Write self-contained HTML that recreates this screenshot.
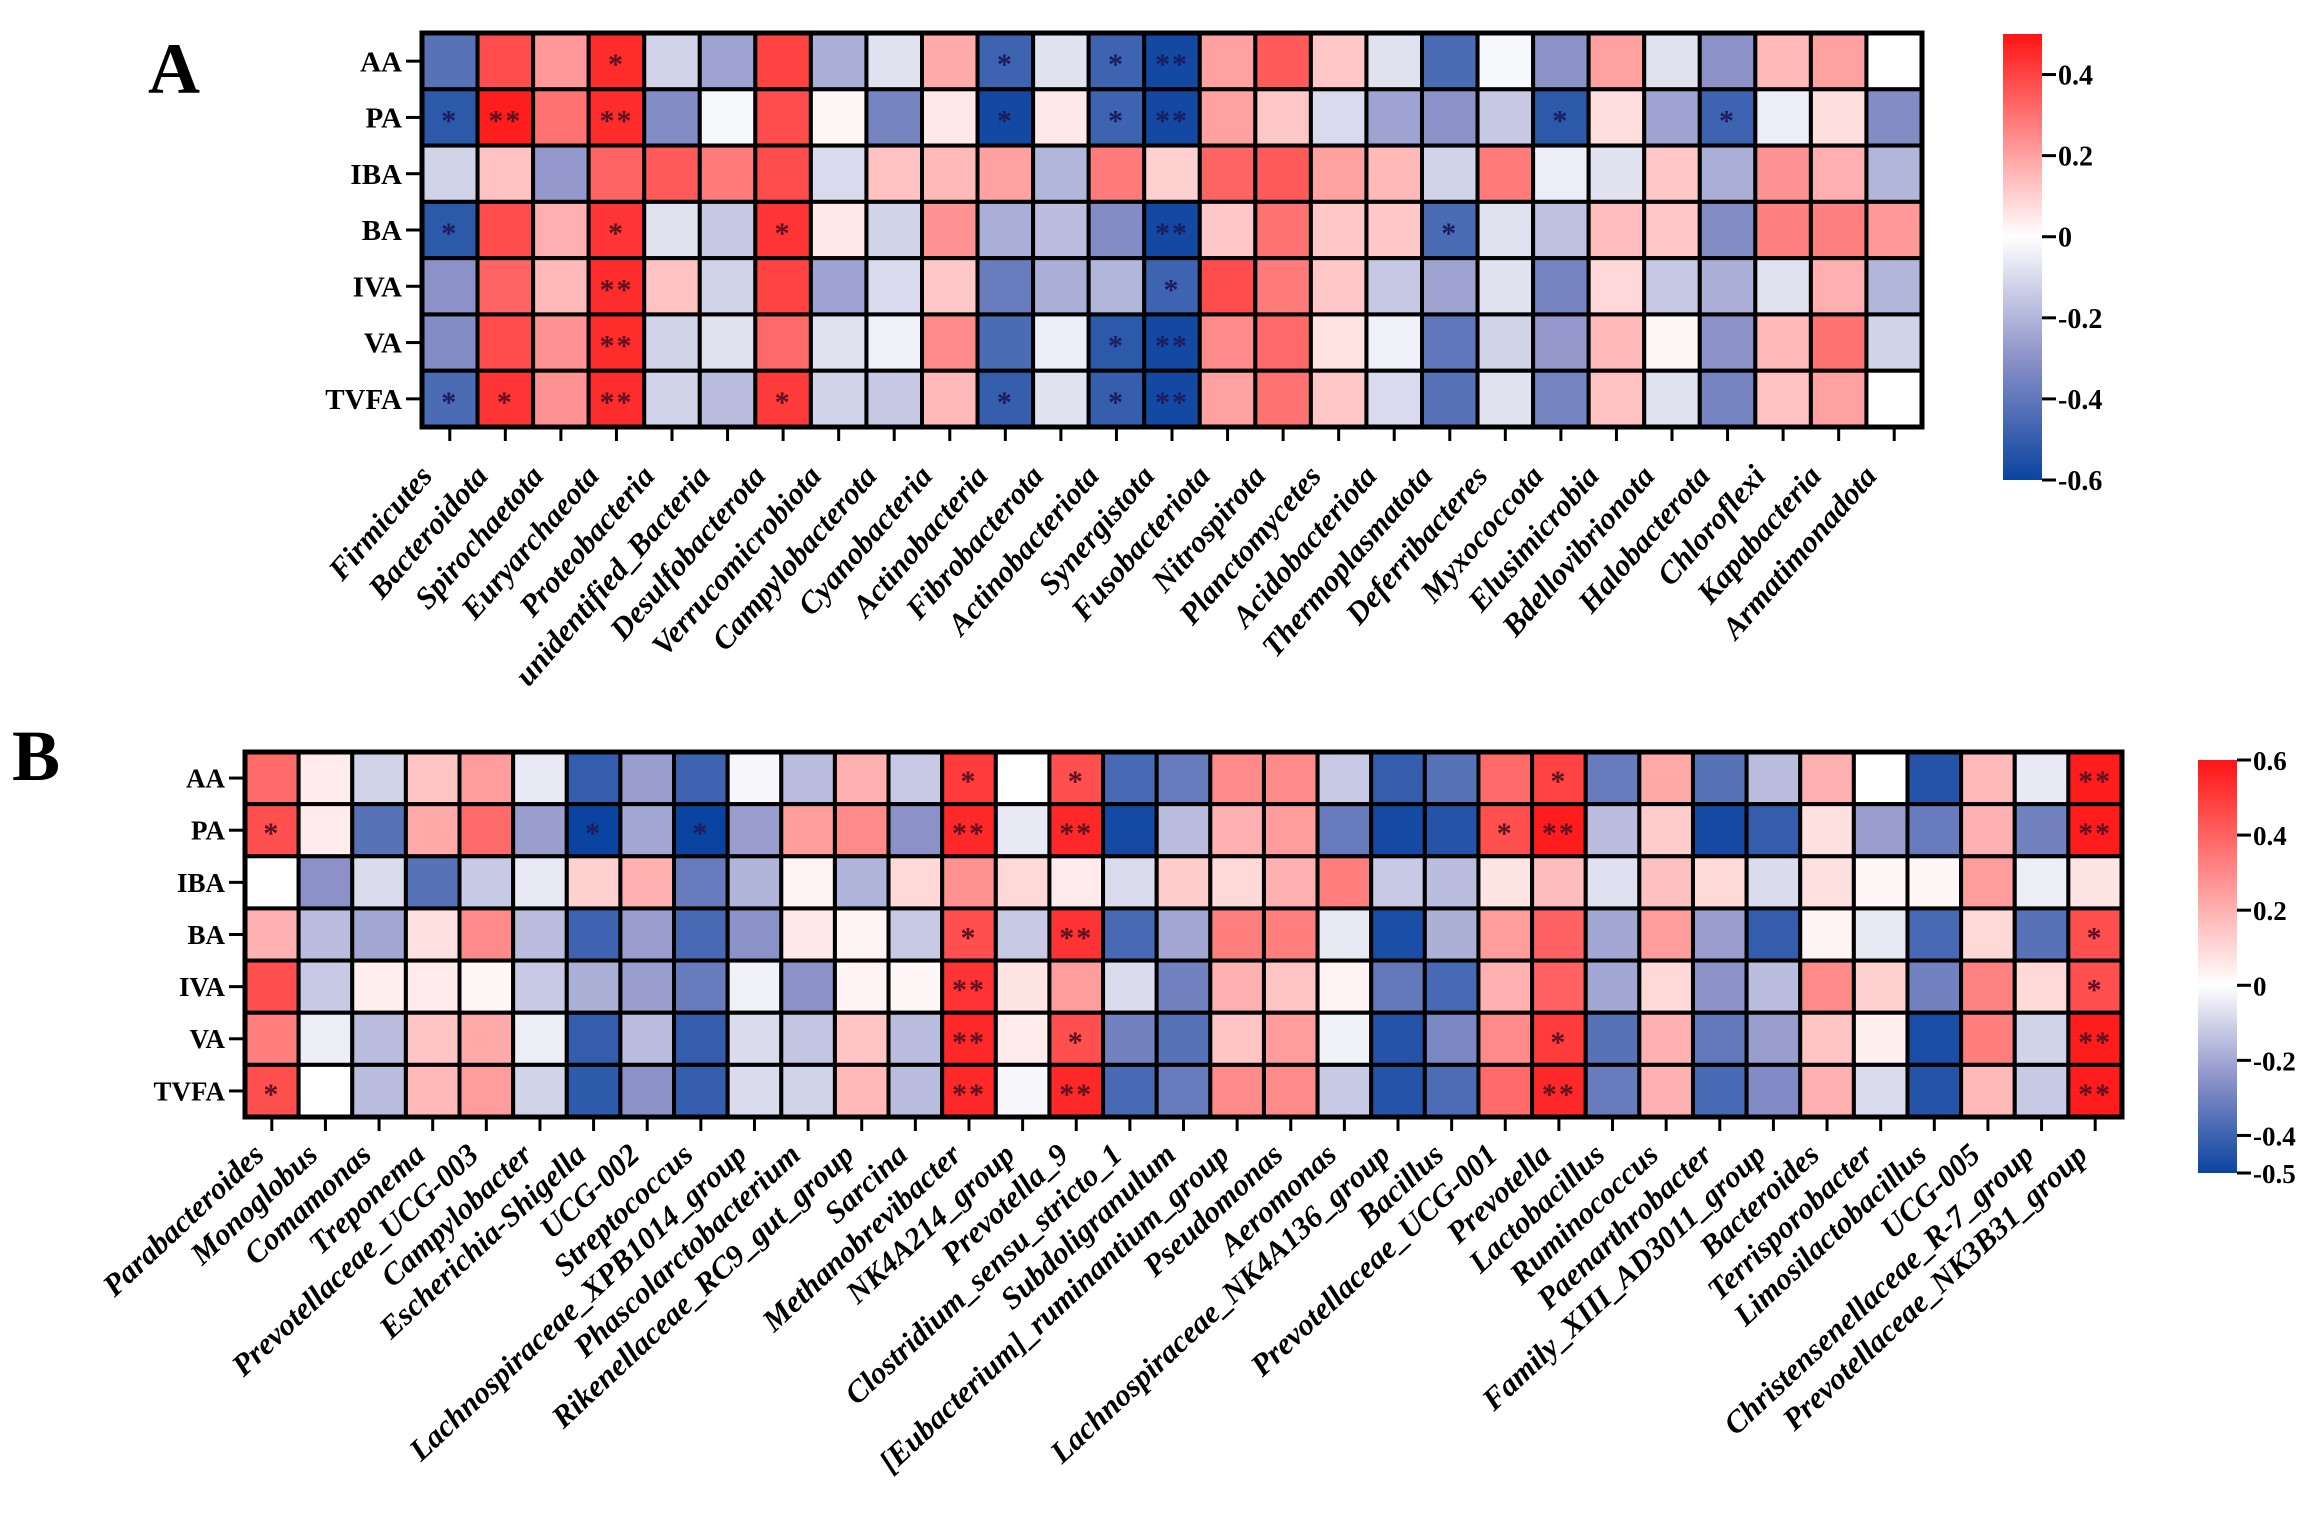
<!DOCTYPE html>
<html><head><meta charset="utf-8"><title>Correlation heatmaps</title>
<style>
html,body{margin:0;padding:0;background:#fff;}
svg{display:block;}
text{font-family:"Liberation Serif",serif;font-weight:bold;}
</style></head>
<body>
<svg id="chart" width="2324" height="1528" viewBox="0 0 2324 1528" xmlns="http://www.w3.org/2000/svg">
<defs>
<linearGradient id="gradA" x1="0" y1="0" x2="0" y2="1">
<stop offset="0" stop-color="#ff1414"/><stop offset="0.4545" stop-color="#ffffff"/><stop offset="0.727" stop-color="#8c91c8"/><stop offset="1" stop-color="#0a44a0"/>
</linearGradient>
<linearGradient id="gradB" x1="0" y1="0" x2="0" y2="1">
<stop offset="0" stop-color="#ff1414"/><stop offset="0.5454" stop-color="#ffffff"/><stop offset="0.773" stop-color="#8c91c8"/><stop offset="1" stop-color="#0a44a0"/>
</linearGradient>
</defs>
<text x="148" y="93" font-size="72">A</text>
<text x="12" y="780" font-size="72">B</text>
<g id="panelA"></g>
<g id="panelB"></g>
</svg>
<script>
const rowLabels = ["AA","PA","IBA","BA","IVA","VA","TVFA"];

const aCategories = ["Firmicutes","Bacteroidota","Spirochaetota","Euryarchaeota","Proteobacteria","unidentified_Bacteria","Desulfobacterota","Verrucomicrobiota","Campylobacterota","Cyanobacteria","Actinobacteria","Fibrobacterota","Actinobacteriota","Synergistota","Fusobacteriota","Nitrospirota","Planctomycetes","Acidobacteriota","Thermoplasmatota","Deferribacteres","Myxococcota","Elusimicrobia","Bdellovibrionota","Halobacterota","Chloroflexi","Kapabacteria","Armatimonadota"];
const aAA   = [-0.42,0.38,0.22,0.45,-0.12,-0.25,0.40,-0.22,-0.08,0.18,-0.48,-0.08,-0.48,-0.58,0.20,0.35,0.12,-0.08,-0.45,-0.02,-0.30,0.20,-0.08,-0.30,0.15,0.20,0.00];
const aPA   = [-0.52,0.48,0.30,0.45,-0.32,-0.02,0.38,0.02,-0.35,0.05,-0.58,0.05,-0.48,-0.58,0.20,0.12,-0.10,-0.25,-0.30,-0.15,-0.52,0.07,-0.25,-0.48,-0.05,0.07,-0.32];
const aIBA  = [-0.12,0.13,-0.28,0.33,0.35,0.28,0.38,-0.10,0.13,0.15,0.20,-0.20,0.28,0.10,0.33,0.35,0.20,0.15,-0.12,0.28,-0.05,-0.08,0.12,-0.22,0.23,0.17,-0.20];
const aBA   = [-0.52,0.38,0.17,0.43,-0.08,-0.15,0.43,0.05,-0.12,0.23,-0.22,-0.18,-0.32,-0.58,0.12,0.30,0.12,0.12,-0.45,-0.08,-0.17,0.14,0.12,-0.32,0.27,0.27,0.22];
const aIVA  = [-0.30,0.33,0.15,0.45,0.13,-0.12,0.40,-0.25,-0.10,0.12,-0.38,-0.22,-0.20,-0.48,0.38,0.28,0.12,-0.15,-0.25,-0.08,-0.35,0.08,-0.15,-0.22,-0.08,0.17,-0.20];
const aVA   = [-0.32,0.38,0.23,0.45,-0.12,-0.08,0.32,-0.08,-0.04,0.25,-0.45,-0.05,-0.52,-0.58,0.25,0.32,0.06,-0.04,-0.40,-0.12,-0.28,0.15,0.02,-0.30,0.15,0.30,-0.12];
const aTVFA = [-0.45,0.43,0.23,0.45,-0.12,-0.18,0.42,-0.12,-0.15,0.15,-0.50,-0.08,-0.50,-0.58,0.20,0.30,0.12,-0.10,-0.42,-0.08,-0.35,0.13,-0.08,-0.35,0.13,0.20,0.00];
const aSigAA   = ["","","","*","","","","","","","*","","*","**","","","","","","","","","","","","",""];
const aSigPA   = ["*","**","","**","","","","","","","*","","*","**","","","","","","","*","","","*","","",""];
const aSigIBA  = ["","","","","","","","","","","","","","","","","","","","","","","","","","",""];
const aSigBA   = ["*","","","*","","","*","","","","","","","**","","","","","*","","","","","","","",""];
const aSigIVA  = ["","","","**","","","","","","","","","","*","","","","","","","","","","","","",""];
const aSigVA   = ["","","","**","","","","","","","","","*","**","","","","","","","","","","","","",""];
const aSigTVFA = ["*","*","","**","","","*","","","","*","","*","**","","","","","","","","","","","","",""];
const aTicks = [0.4,0.2,0,-0.2,-0.4,-0.6];
const aTickLabels = ["0.4","0.2","0","-0.2","-0.4","-0.6"];

const bCategories = ["Parabacteroides","Monoglobus","Comamonas","Treponema","Prevotellaceae_UCG-003","Campylobacter","Escherichia-Shigella","UCG-002","Streptococcus","Lachnospiraceae_XPB1014_group","Phascolarctobacterium","Rikenellaceae_RC9_gut_group","Sarcina","Methanobrevibacter","NK4A214_group","Prevotella_9","Clostridium_sensu_stricto_1","Subdoligranulum","[Eubacterium]_ruminantium_group","Pseudomonas","Aeromonas","Lachnospiraceae_NK4A136_group","Bacillus","Prevotellaceae_UCG-001","Prevotella","Lactobacillus","Ruminococcus","Paenarthrobacter","Family_XIII_AD3011_group","Bacteroides","Terrisporobacter","Limosilactobacillus","UCG-005","Christensenellaceae_R-7_group","Prevotellaceae_NK3B31_group"];
const bAA   = [0.38,0.05,-0.10,0.15,0.25,-0.05,-0.42,-0.22,-0.40,-0.02,-0.15,0.20,-0.12,0.50,0.00,0.45,-0.38,-0.32,0.30,0.30,-0.12,-0.42,-0.35,0.38,0.48,-0.32,0.22,-0.35,-0.15,0.20,0.00,-0.45,0.18,-0.05,0.58];
const bPA   = [0.45,0.05,-0.35,0.22,0.38,-0.22,-0.50,-0.20,-0.50,-0.22,0.25,0.30,-0.25,0.55,-0.05,0.55,-0.48,-0.15,0.20,0.25,-0.32,-0.48,-0.45,0.45,0.58,-0.15,0.13,-0.48,-0.42,0.08,-0.22,-0.32,0.20,-0.30,0.58];
const bIBA  = [0.00,-0.25,-0.08,-0.35,-0.12,-0.05,0.12,0.20,-0.32,-0.17,0.03,-0.17,0.10,0.28,0.10,0.05,-0.08,0.13,0.10,0.20,0.33,-0.12,-0.15,0.07,0.17,-0.07,0.16,0.10,-0.08,0.08,0.02,0.02,0.25,-0.04,0.07];
const bBA   = [0.20,-0.15,-0.20,0.08,0.30,-0.15,-0.40,-0.22,-0.38,-0.25,0.06,0.03,-0.12,0.45,-0.12,0.52,-0.38,-0.20,0.33,0.33,-0.05,-0.47,-0.18,0.25,0.40,-0.20,0.25,-0.22,-0.42,0.03,-0.05,-0.38,0.10,-0.35,0.45];
const bIVA  = [0.45,-0.12,0.04,0.05,0.02,-0.12,-0.18,-0.22,-0.32,-0.03,-0.25,0.03,0.02,0.52,0.07,0.25,-0.08,-0.30,0.20,0.15,0.03,-0.33,-0.38,0.20,0.40,-0.20,0.10,-0.25,-0.15,0.30,0.12,-0.30,0.32,0.10,0.45];
const bVA   = [0.33,-0.04,-0.15,0.15,0.22,-0.04,-0.42,-0.15,-0.42,-0.08,-0.13,0.15,-0.15,0.55,0.05,0.45,-0.30,-0.35,0.15,0.25,-0.03,-0.45,-0.28,0.30,0.50,-0.35,0.20,-0.33,-0.22,0.15,0.04,-0.47,0.33,-0.10,0.58];
const bTVFA = [0.45,0.00,-0.15,0.18,0.25,-0.10,-0.43,-0.25,-0.42,-0.08,-0.10,0.18,-0.15,0.55,-0.02,0.55,-0.38,-0.32,0.30,0.30,-0.12,-0.45,-0.37,0.38,0.55,-0.32,0.20,-0.38,-0.27,0.20,-0.08,-0.45,0.18,-0.12,0.58];
const bSigAA   = ["","","","","","","","","","","","","","*","","*","","","","","","","","","*","","","","","","","","","","**"];
const bSigPA   = ["*","","","","","","*","","*","","","","","**","","**","","","","","","","","*","**","","","","","","","","","","**"];
const bSigIBA  = ["","","","","","","","","","","","","","","","","","","","","","","","","","","","","","","","","","",""];
const bSigBA   = ["","","","","","","","","","","","","","*","","**","","","","","","","","","","","","","","","","","","","*"];
const bSigIVA  = ["","","","","","","","","","","","","","**","","","","","","","","","","","","","","","","","","","","","*"];
const bSigVA   = ["","","","","","","","","","","","","","**","","*","","","","","","","","","*","","","","","","","","","","**"];
const bSigTVFA = ["*","","","","","","","","","","","","","**","","**","","","","","","","","","**","","","","","","","","","","**"];
const bTicks = [0.6,0.4,0.2,0,-0.2,-0.4,-0.5];
const bTickLabels = ["0.6","0.4","0.2","0","-0.2","-0.4","-0.5"];

const NS = "http://www.w3.org/2000/svg";
function mk(parent, tag, attrs, txt) {
  const e = document.createElementNS(NS, tag);
  for (const k in attrs) e.setAttribute(k, attrs[k]);
  if (txt !== undefined) e.textContent = txt;
  parent.appendChild(e);
  return e;
}
function lerp(a, b, t) { return [0,1,2].map(k => Math.round(a[k] + (b[k] - a[k]) * t)); }
function colorFor(v, vmax, vmin) {
  let c;
  if (v >= 0) {
    const t = Math.min(1, v / vmax);
    c = lerp([255,255,255], [255,20,20], t);
  } else {
    const t = Math.min(1, v / vmin);
    c = t < 0.5 ? lerp([255,255,255], [140,145,200], t / 0.5) : lerp([140,145,200], [10,68,160], (t - 0.5) / 0.5);
  }
  return "rgb(" + c.join(",") + ")";
}

function drawPanel(g, cfg) {
  const nC = cfg.cats.length, nR = rowLabels.length;
  const cw = (cfg.x1 - cfg.x0) / nC, rh = (cfg.y1 - cfg.y0) / nR;
  const xPos = i => cfg.x0 + i * cw;
  const yPos = j => cfg.y0 + j * rh;
  for (let j = 0; j < nR; j++) {
    for (let i = 0; i < nC; i++) {
      const v = cfg.vals[j][i];
      const r = mk(g, "rect", {x: xPos(i), y: yPos(j), width: cw, height: rh, fill: colorFor(v, cfg.vmax, cfg.vmin), stroke: "#000", "stroke-width": 4});
      
      
      const s = cfg.sig[j][i];
      if (s) {
        const t = mk(g, "text", {x: xPos(i) + cw / 2, y: yPos(j) + rh / 2 + 13, "text-anchor": "middle", "font-size": 30, "font-weight": "normal", fill: v >= 0 ? "#5a1020" : "#1c1c5e", "letter-spacing": 2}, s);
        
        
      }
    }
  }
  const ob = mk(g, "rect", {x: cfg.x0, y: cfg.y0, width: cfg.x1 - cfg.x0, height: cfg.y1 - cfg.y0, fill: "none", stroke: "#000", "stroke-width": 5});
  
  
  for (let j = 0; j < nR; j++) {
    const cy = yPos(j) + rh / 2;
    mk(g, "line", {x1: cfg.x0 - 16, x2: cfg.x0, y1: cy, y2: cy, stroke: "#000", "stroke-width": 3});
    const t = mk(g, "text", {x: cfg.x0 - 20, y: cy + cfg.rowFs * 0.35, "text-anchor": "end", "font-size": cfg.rowFs}, rowLabels[j]);
    
    
  }
  for (let i = 0; i < nC; i++) {
    const cx = xPos(i) + cw / 2;
    mk(g, "line", {x1: cx, x2: cx, y1: cfg.y1, y2: cfg.y1 + 14, stroke: "#000", "stroke-width": 3});
    const ax = cx + cfg.lblDx, ay = cfg.y1 + cfg.lblDy;
    const t = mk(g, "text", {x: ax, y: ay, "text-anchor": "end", "font-size": cfg.colFs, "font-style": "italic", transform: "rotate(" + cfg.angle + " " + ax + " " + ay + ")"}, cfg.cats[i]);
    
    
  }
  const cb = mk(g, "rect", {x: cfg.cbX, y: cfg.cbTop, width: cfg.cbW, height: cfg.cbBot - cfg.cbTop, fill: "url(#" + cfg.grad + ")"});
  
  
  const cbY = v => cfg.cbTop + (cfg.vmax - v) / (cfg.vmax - cfg.vmin) * (cfg.cbBot - cfg.cbTop);
  for (let k = 0; k < cfg.ticks.length; k++) {
    const y = cbY(cfg.ticks[k]);
    mk(g, "line", {x1: cfg.cbX + cfg.cbW, x2: cfg.cbX + cfg.cbW + 14, y1: y, y2: y, stroke: "#000", "stroke-width": 3});
    const t = mk(g, "text", {x: cfg.cbX + cfg.cbW + 16, y: y + 10, "font-size": cfg.cbFs}, cfg.tickLabels[k]);
    
    
  }
}

drawPanel(document.getElementById("panelA"), {
  cats: aCategories, vals: [aAA,aPA,aIBA,aBA,aIVA,aVA,aTVFA],
  sig: [aSigAA,aSigPA,aSigIBA,aSigBA,aSigIVA,aSigVA,aSigTVFA],
  x0: 422, x1: 1922, y0: 33, y1: 427, vmax: 0.5, vmin: -0.6,
  rowFs: 29, colFs: 31, lblDx: -16, lblDy: 50, angle: -49,
  cbX: 2003, cbW: 39, cbTop: 34, cbBot: 480, grad: "gradA", cbFs: 28,
  ticks: aTicks, tickLabels: aTickLabels
});
drawPanel(document.getElementById("panelB"), {
  cats: bCategories, vals: [bAA,bPA,bIBA,bBA,bIVA,bVA,bTVFA],
  sig: [bSigAA,bSigPA,bSigIBA,bSigBA,bSigIVA,bSigVA,bSigTVFA],
  x0: 245, x1: 2122, y0: 752, y1: 1117, vmax: 0.6, vmin: -0.5,
  rowFs: 27, colFs: 31, lblDx: -6, lblDy: 40, angle: -43,
  cbX: 2198, cbW: 39, cbTop: 760, cbBot: 1173, grad: "gradB", cbFs: 27,
  ticks: bTicks, tickLabels: bTickLabels
});
</script>
</body></html>
